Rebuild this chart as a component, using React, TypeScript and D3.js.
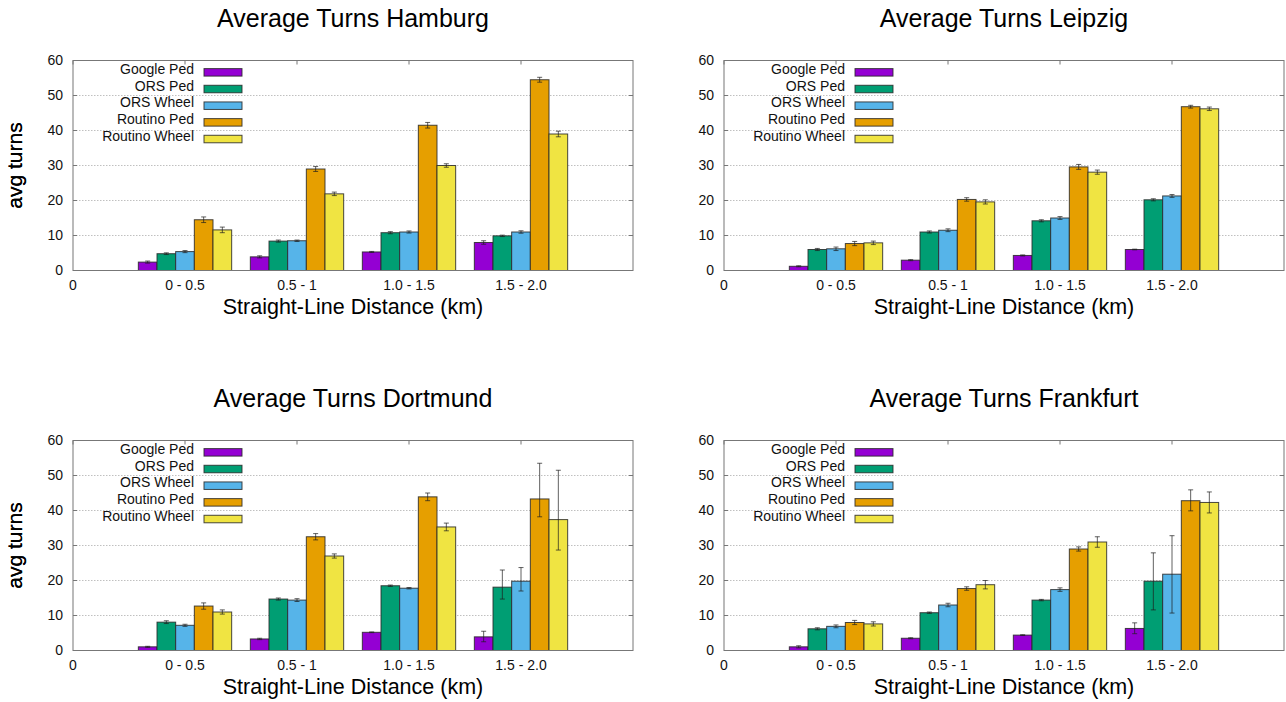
import React, { useEffect, useRef } from 'react';
import * as d3 from 'd3';

// distance buckets and routing services
const categories = ['0 - 0.5', '0.5 - 1', '1.0 - 1.5', '1.5 - 2.0'];
const seriesNames = ['Google Ped', 'ORS Ped', 'ORS Wheel', 'Routino Ped', 'Routino Wheel'];
const seriesColors = ['#9400d3', '#009e73', '#56b4e9', '#e69f00', '#f0e442'];
const yTicks = [0, 10, 20, 30, 40, 50, 60];

// values: one row per series, one column per category
const hamburgValues = [
  [2.4, 3.9, 5.3, 8.0],
  [4.8, 8.4, 10.8, 9.9],
  [5.4, 8.5, 11.0, 11.0],
  [14.5, 29.0, 41.5, 54.5],
  [11.6, 21.9, 30.0, 39.0],
];
const hamburgErr = [
  [0.3, 0.3, 0.15, 0.5],
  [0.25, 0.3, 0.3, 0.2],
  [0.3, 0.2, 0.3, 0.35],
  [0.8, 0.7, 0.8, 0.7],
  [0.8, 0.5, 0.5, 0.8],
];

const leipzigValues = [
  [1.2, 2.95, 4.3, 6.0],
  [6.0, 11.0, 14.2, 20.2],
  [6.2, 11.5, 15.0, 21.3],
  [7.7, 20.3, 29.6, 46.8],
  [7.9, 19.6, 28.1, 46.2],
];
const leipzigErr = [
  [0.15, 0.15, 0.15, 0.1],
  [0.3, 0.3, 0.3, 0.3],
  [0.5, 0.4, 0.4, 0.4],
  [0.6, 0.5, 0.7, 0.4],
  [0.5, 0.6, 0.6, 0.5],
];

const dortmundValues = [
  [1.05, 3.3, 5.2, 3.9],
  [8.1, 14.7, 18.5, 18.1],
  [7.2, 14.4, 17.8, 19.8],
  [12.7, 32.5, 43.9, 43.3],
  [11.0, 27.0, 35.3, 37.4],
];
const dortmundErrMinus = [
  [0.15, 0.2, 0.1, 1.4],
  [0.4, 0.3, 0.2, 3.4],
  [0.3, 0.4, 0.2, 2.8],
  [0.9, 0.9, 1.1, 5.1],
  [0.6, 0.6, 1.1, 8.7],
];
const dortmundErrPlus = [
  [0.15, 0.2, 0.1, 1.6],
  [0.4, 0.3, 0.2, 4.9],
  [0.3, 0.4, 0.2, 3.9],
  [0.9, 0.9, 1.1, 10.2],
  [0.6, 0.6, 1.1, 14.1],
];

const frankfurtValues = [
  [1.05, 3.5, 4.4, 6.3],
  [6.2, 10.8, 14.4, 19.8],
  [6.9, 13.0, 17.4, 21.8],
  [8.0, 17.7, 29.0, 42.8],
  [7.6, 18.8, 31.0, 42.3],
];
const frankfurtErrMinus = [
  [0.3, 0.15, 0.1, 1.5],
  [0.3, 0.2, 0.2, 8.2],
  [0.4, 0.5, 0.5, 11.1],
  [0.6, 0.5, 0.6, 2.9],
  [0.6, 1.2, 1.5, 3.0],
];
const frankfurtErrPlus = [
  [0.3, 0.15, 0.1, 1.6],
  [0.3, 0.2, 0.2, 8.1],
  [0.4, 0.5, 0.5, 11.0],
  [0.6, 0.5, 0.6, 3.1],
  [0.6, 1.2, 1.5, 3.0],
];

const FONT = "'Liberation Sans', Arial, Helvetica, sans-serif";
const PLOT_W = 560;
const PLOT_H = 210;

function drawPanel(svg, left, top, title, values, errMinus, errPlus) {
  const g = svg.append('g').attr('transform', `translate(${left},${top})`);

  const x = d3.scaleLinear().domain([0, categories.length + 1]).range([0, PLOT_W]);
  const y = d3.scaleLinear().domain([0, 60]).range([PLOT_H, 0]);
  const barW = (x(1) - x(0)) / 6;

  // grid lines
  g.selectAll('.grid')
    .data(yTicks.filter(t => t > 0 && t < 60))
    .enter()
    .append('line')
    .attr('x1', 0)
    .attr('x2', PLOT_W)
    .attr('y1', d => y(d))
    .attr('y2', d => y(d))
    .attr('stroke', '#b0b0b0')
    .attr('stroke-width', 0.8)
    .attr('stroke-dasharray', '1.5,1.5');

  // y tick labels + inward ticks on both sides
  yTicks.forEach(t => {
    g.append('text')
      .attr('x', -10)
      .attr('y', y(t))
      .attr('dy', '0.35em')
      .attr('text-anchor', 'end')
      .style('font-family', FONT)
      .style('font-size', '14px')
      .style('fill', '#111')
      .text(t);
    g.append('line')
      .attr('x1', 0).attr('x2', 4)
      .attr('y1', y(t)).attr('y2', y(t))
      .attr('stroke', '#777');
    g.append('line')
      .attr('x1', PLOT_W - 4).attr('x2', PLOT_W)
      .attr('y1', y(t)).attr('y2', y(t))
      .attr('stroke', '#777');
  });

  // x tick labels
  const xLabels = ['0', ...categories];
  xLabels.forEach((lab, i) => {
    g.append('text')
      .attr('x', x(i))
      .attr('y', PLOT_H + 19)
      .attr('text-anchor', 'middle')
      .style('font-family', FONT)
      .style('font-size', '14px')
      .style('fill', '#111')
      .text(lab);
    g.append('line')
      .attr('x1', x(i)).attr('x2', x(i))
      .attr('y1', 0).attr('y2', 4)
      .attr('stroke', '#777');
  });

  // bars
  seriesNames.forEach((name, s) => {
    categories.forEach((cat, c) => {
      const cx = x(c + 1);
      const bx = cx - 2.5 * barW + s * barW;
      const v = values[s][c];
      g.append('rect')
        .attr('x', bx)
        .attr('y', y(v))
        .attr('width', barW)
        .attr('height', y(0) - y(v))
        .attr('fill', seriesColors[s])
        .attr('stroke', 'rgba(40,40,40,0.85)')
        .attr('stroke-width', 1);
    });
  });

  // error bars
  seriesNames.forEach((name, s) => {
    categories.forEach((cat, c) => {
      const mx = x(c + 1) - 2.5 * barW + (s + 0.5) * barW;
      const v = values[s][c];
      const lo = y(v - errMinus[s][c]);
      const hi = y(v + errPlus[s][c]);
      const eg = g.append('g')
        .attr('stroke', 'rgba(30,30,30,0.7)')
        .attr('stroke-width', 1);
      eg.append('line').attr('x1', mx).attr('x2', mx).attr('y1', lo).attr('y2', hi);
      eg.append('line').attr('x1', mx - 2.5).attr('x2', mx + 2.5).attr('y1', lo).attr('y2', lo);
      eg.append('line').attr('x1', mx - 2.5).attr('x2', mx + 2.5).attr('y1', hi).attr('y2', hi);
    });
  });

  // border
  g.append('rect')
    .attr('x', 0)
    .attr('y', 0)
    .attr('width', PLOT_W)
    .attr('height', PLOT_H)
    .attr('fill', 'none')
    .attr('stroke', '#777')
    .attr('stroke-width', 1);

  // legend
  seriesNames.forEach((name, s) => {
    const by = 13.6 + s * 16.67;
    g.append('text')
      .attr('x', 121)
      .attr('y', by)
      .attr('text-anchor', 'end')
      .style('font-family', FONT)
      .style('font-size', '14px')
      .style('fill', '#111')
      .text(name);
    g.append('rect')
      .attr('x', 131)
      .attr('y', by - 5.5)
      .attr('width', 38)
      .attr('height', 7.5)
      .attr('fill', seriesColors[s])
      .attr('stroke', 'rgba(40,40,40,0.85)')
      .attr('stroke-width', 1);
  });

  // title and axis labels
  g.append('text')
    .attr('x', PLOT_W / 2)
    .attr('y', -34)
    .attr('text-anchor', 'middle')
    .style('font-family', FONT)
    .style('font-size', '25px')
    .style('fill', '#000')
    .text(title);

  g.append('text')
    .attr('x', PLOT_W / 2)
    .attr('y', PLOT_H + 43)
    .attr('text-anchor', 'middle')
    .style('font-family', FONT)
    .style('font-size', '21.5px')
    .style('fill', '#000')
    .text('Straight-Line Distance (km)');

  g.append('text')
    .attr('transform', `translate(${22 - left},${PLOT_H / 2}) rotate(-90)`)
    .attr('text-anchor', 'middle')
    .style('font-family', FONT)
    .style('font-size', '21px')
    .style('fill', '#000')
    .text('avg turns');
}

export default function App() {
  const svgRef = useRef(null);

  useEffect(() => {
    const svg = d3.select(svgRef.current);
    svg.selectAll('*').remove();
    svg.append('rect').attr('width', 1286).attr('height', 702).attr('fill', '#fff');

    drawPanel(svg, 73, 60.5, 'Average Turns Hamburg', hamburgValues, hamburgErr, hamburgErr);
    drawPanel(svg, 724, 60.5, 'Average Turns Leipzig', leipzigValues, leipzigErr, leipzigErr);
    drawPanel(svg, 73, 440.5, 'Average Turns Dortmund', dortmundValues, dortmundErrMinus, dortmundErrPlus);
    drawPanel(svg, 724, 440.5, 'Average Turns Frankfurt', frankfurtValues, frankfurtErrMinus, frankfurtErrPlus);
  }, []);

  return (
    <svg
      ref={svgRef}
      width={1286}
      height={702}
      style={{ position: 'absolute', left: 0, top: 0 }}
    />
  );
}
